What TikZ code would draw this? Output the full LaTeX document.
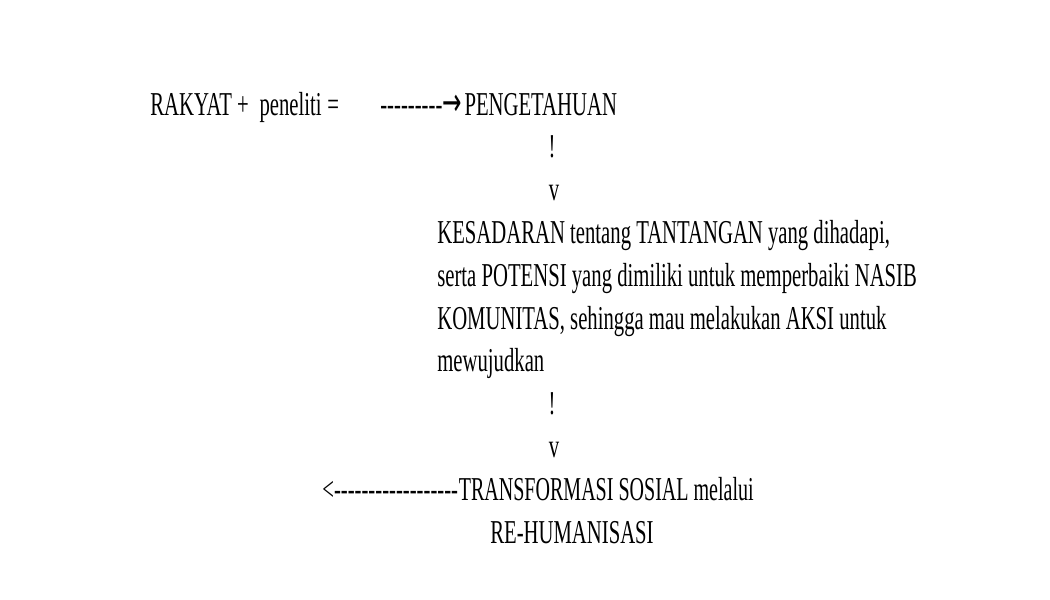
\documentclass[tikz,border=0pt]{standalone}
\usepackage{fontspec}
\setmainfont{Liberation Serif}[FakeStretch=0.62, Ligatures=TeXOff]
\newfontfamily\panahfont{DejaVu Sans}[FakeStretch=0.6]
\newfontfamily\sempitfont{Liberation Serif}[FakeStretch=0.6, Ligatures=TeXOff]
\usepackage{tikz}
\usetikzlibrary{positioning, calc}

\tikzset{
  teks/.style={inner sep=0pt, anchor=base west, font=\fontsize{19}{23}\selectfont},
  tanda/.style={inner sep=0pt, anchor=base, font=\fontsize{19}{23}\selectfont}
}

\begin{document}
\begin{tikzpicture}
\useasboundingbox (0,0) rectangle (21,-12);

% Baris pertama
\node[teks] (rakyat) at (3.0,-2.30) {RAKYAT\ +\ \,peneliti\,=};
\node[teks] (panah1) at (7.6,-2.30) {---------{\panahfont\fontsize{22}{23}\selectfont →}};
\node[teks] (pengetahuan) at ($(panah1.base east)+(0.04,0)$) {PENGETAHUAN};

% Tanda turun
\node[tanda] (seru1) at (11.04,-3.156) {!};
\node[tanda] (v1) at (11.08,-4.012) {v};

% Kesadaran
\node[teks] (kes1) at (8.74,-4.868) {KESADARAN tentang TANTANGAN yang dihadapi,};
\node[teks] (kes2) at (8.74,-5.724) {serta POTENSI yang dimiliki untuk memperbaiki NASIB};
\node[teks] (kes3) at (8.74,-6.58) {KOMUNITAS, sehingga mau melakukan AKSI untuk};
\node[teks] (kes4) at (8.74,-7.436) {mewujudkan};

% Tanda turun
\node[tanda] (seru2) at (11.04,-8.292) {!};
\node[tanda] (v2) at (11.08,-9.148) {v};

% Transformasi
\node[teks] (panah2) at (6.44,-10.004) {<------------------};
\node[teks, font=\fontsize{19}{23}\sempitfont] (transformasi) at (panah2.base east) {TRANSFORMASI SOSIAL melalui};
\node[teks] (rehum) at (9.8,-10.86) {RE-HUMANISASI};
\end{tikzpicture}
\end{document}
